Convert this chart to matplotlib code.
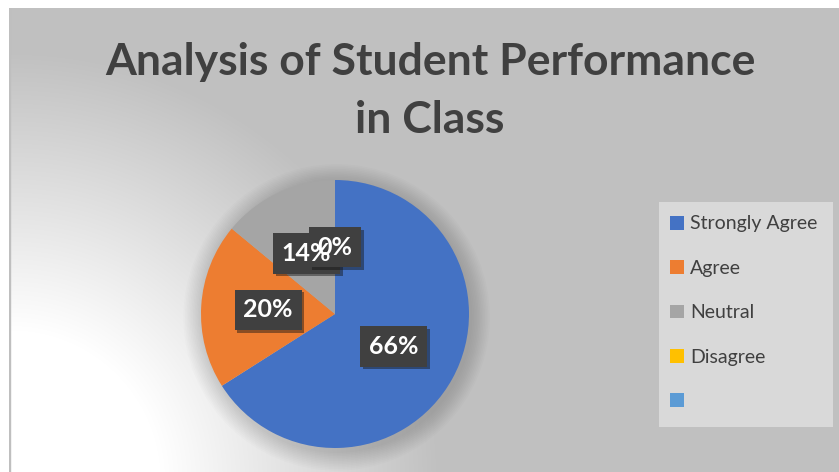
import numpy as np
import matplotlib
matplotlib.use("Agg")
import matplotlib.pyplot as plt
from matplotlib.patches import Circle, Rectangle
from matplotlib import patheffects as pe

# data
categories = ['Strongly Agree', 'Agree', 'Neutral', 'Disagree', ' ']
shares = [66, 20, 14, 0, 0]
colors = ['#4472C4', '#ED7D31', '#A5A5A5', '#FFC000', '#5B9BD5']
title = 'Analysis of Student Performance\nin Class'

W, H = 839, 472
plt.rcParams['font.family'] = ['Lato', 'DejaVu Sans']
fig = plt.figure(figsize=(W / 100, H / 100), dpi=100)
fig.patch.set_facecolor('white')

# background: grey with a white radial glow in the lower left
left, top = 9, 8
bg = fig.add_axes([left / W, 0, (W - left) / W, (H - top) / H])
bg.set_axis_off()
yy, xx = np.mgrid[0:H - top, 0:W - left]
d = np.hypot(xx + left - 10, yy + top - 480)
t = np.clip((d - 150) / 280, 0, 1)
val = (255 - t * (255 - 192)) / 255
img = np.dstack([val, val, val])
bg.imshow(img, aspect='auto', extent=[0, 1, 0, 1], origin='upper')
bg.set_xlim(0, 1)
bg.set_ylim(0, 1)
bg.add_patch(Rectangle((0, 0), 0.0015, 1, color='#bfbfbf', transform=bg.transAxes))

fig.text(430 / W, 1 - 91 / H, title, ha='center', va='center', fontsize=32,
         fontweight='bold', color='#404040', linespacing=1.52)

# pie
cx, cy, r = 335, 314, 134
ax = fig.add_axes([(cx - r) / W, (H - cy - r) / H, 2 * r / W, 2 * r / H])
for k in range(12, 0, -1):
    ax.add_patch(Circle((0.012, -0.025), 1 + k * 0.012, color='black',
                        alpha=0.013, lw=0, clip_on=False, zorder=0))
wedges, texts, autotexts = ax.pie(
    shares, colors=colors, startangle=90, counterclock=False,
    autopct=lambda p: f'{p:.0f}%', pctdistance=0.5,
    wedgeprops=dict(linewidth=0), textprops=dict(color=(1, 1, 1, 0)))
for w in wedges:
    w.set_zorder(2)
autotexts[-1].set_visible(False)
for at in autotexts[:-1]:
    # the box comes from the autopct text, the white label is drawn on top
    at.set_fontsize(18)
    at.set_fontweight('bold')
    at.set_zorder(5)
    at.set_bbox(dict(boxstyle='square,pad=0.35', fc='#404040', ec='none'))
    at.get_bbox_patch().set_path_effects(
        [pe.SimplePatchShadow(offset=(2, -2), alpha=0.45), pe.Normal()])
    x, y = at.get_position()
    ax.text(x, y, at.get_text(), ha='center', va='center', fontsize=18,
            fontweight='bold', color='white', zorder=6)
ax.set_xlim(-1, 1)
ax.set_ylim(-1, 1)
ax.set_aspect('equal')
ax.set_axis_off()

# legend panel
fig.patches.append(Rectangle((659 / W, 1 - 427 / H), 174 / W, 225 / H,
                             transform=fig.transFigure, fc='#d9d9d9', ec='none',
                             zorder=1))
leg = fig.legend(wedges, categories, loc='upper left',
                 bbox_to_anchor=(652 / W, 1 - 197 / H),
                 borderaxespad=0, fontsize=14,
                 handlelength=0.72, handleheight=0.72, handletextpad=0.3,
                 labelspacing=1.41, borderpad=0.95, frameon=False,
                 labelcolor='#404040')

fig.savefig('out.png', dpi=100)
